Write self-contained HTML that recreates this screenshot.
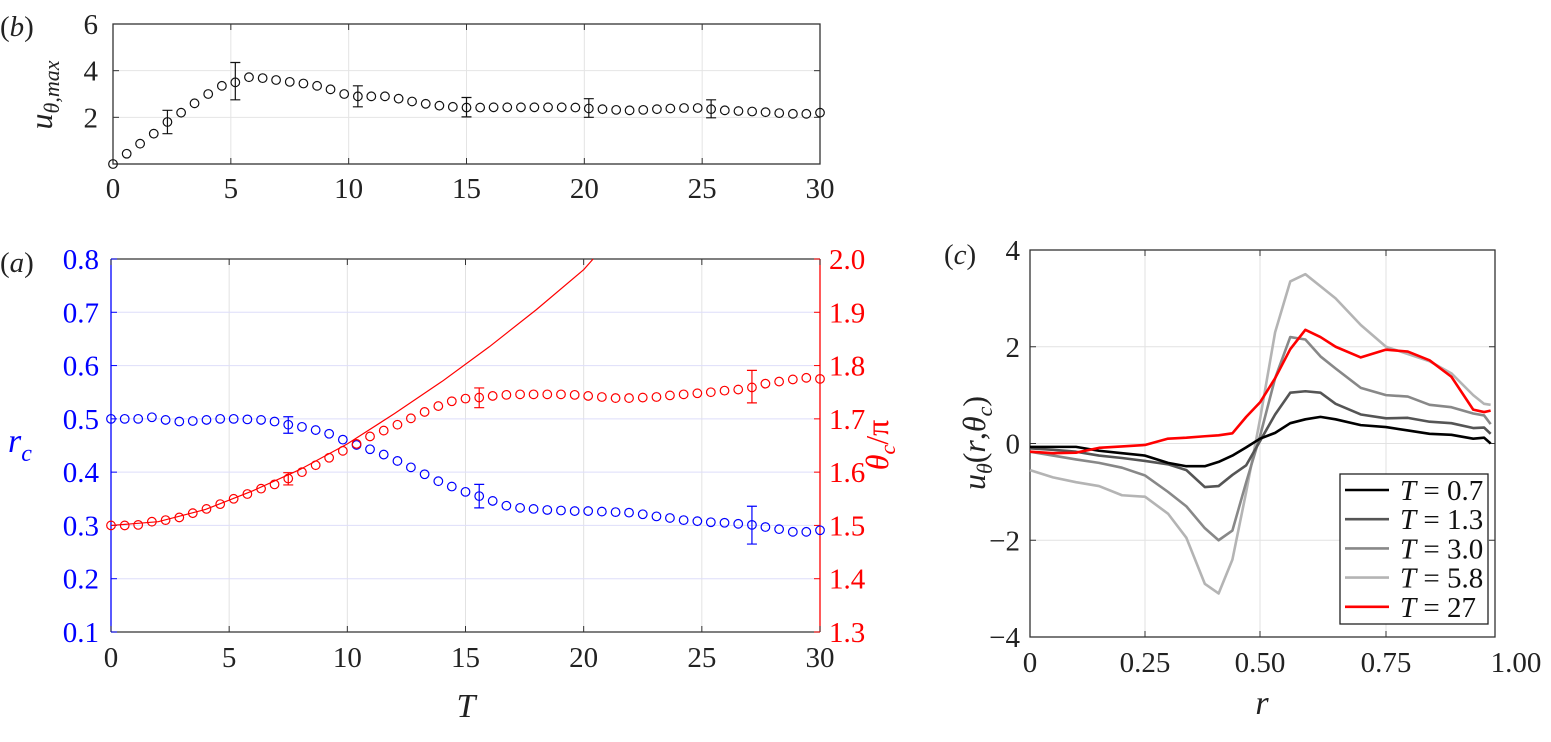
<!DOCTYPE html>
<html><head><meta charset="utf-8"><style>
body{margin:0;background:#fff;}
text{font-family:"Liberation Serif","DejaVu Serif",serif;}
</style></head><body>
<svg id="fig" width="1551" height="737" xmlns="http://www.w3.org/2000/svg" font-family="Liberation Serif, serif"></svg>
<script>
// ---- shared time grid ----
const tGrid=[0,0.58,1.15,1.73,2.31,2.89,3.46,4.04,4.62,5.19,5.77,6.35,6.92,7.5,8.08,8.66,9.23,9.81,10.39,10.96,11.54,12.12,12.69,13.27,13.85,14.42,15.0,15.58,16.15,16.73,17.31,17.88,18.46,19.04,19.62,20.19,20.77,21.35,21.92,22.5,23.08,23.65,24.23,24.81,25.38,25.96,26.54,27.12,27.69,28.27,28.85,29.42,30.0];
// ---- panel b ----
const bVals=[0,0.44,0.87,1.3,1.8,2.2,2.6,3.0,3.35,3.5,3.72,3.68,3.6,3.52,3.45,3.35,3.2,3.0,2.9,2.9,2.9,2.8,2.68,2.58,2.5,2.45,2.42,2.42,2.43,2.43,2.43,2.43,2.43,2.43,2.42,2.38,2.35,2.32,2.3,2.32,2.35,2.38,2.4,2.4,2.35,2.3,2.27,2.25,2.22,2.18,2.15,2.15,2.2];
const bErrIdx=[4,9,18,26,35,44];
const bErrLo=[1.3,2.75,2.45,2.02,2.0,1.98];
const bErrHi=[2.3,4.35,3.35,2.85,2.8,2.75];
const bXTicks=[0,5,10,15,20,25,30];
const bYTicks=[2,4,6];
// ---- panel a ----
const rcVals=[0.5,0.5,0.5,0.503,0.498,0.495,0.496,0.498,0.5,0.5,0.499,0.498,0.495,0.489,0.485,0.479,0.472,0.461,0.451,0.443,0.433,0.421,0.409,0.396,0.383,0.373,0.363,0.355,0.346,0.337,0.333,0.331,0.329,0.328,0.327,0.327,0.326,0.325,0.324,0.321,0.317,0.314,0.31,0.308,0.306,0.305,0.303,0.301,0.297,0.293,0.288,0.288,0.291];
const thVals=[1.5,1.5,1.501,1.507,1.51,1.515,1.523,1.531,1.54,1.55,1.559,1.569,1.577,1.588,1.6,1.613,1.627,1.64,1.653,1.667,1.678,1.689,1.701,1.713,1.724,1.733,1.738,1.74,1.743,1.745,1.746,1.746,1.746,1.746,1.745,1.743,1.741,1.739,1.739,1.74,1.741,1.744,1.746,1.748,1.75,1.753,1.755,1.759,1.766,1.77,1.774,1.777,1.775];
const rcErrIdx=[13,27,47];
const rcErrLo=[0.473,0.333,0.265];
const rcErrHi=[0.504,0.377,0.336];
const thErrIdx=[13,27,47];
const thErrLo=[1.576,1.721,1.73];
const thErrHi=[1.599,1.758,1.791];
const fitT=[0,2,4,6,8,10,12,14,16,18,20,20.4];
const fitVals=[1.5,1.507,1.53,1.565,1.605,1.653,1.71,1.77,1.835,1.905,1.98,2.0];
const aLeftTicks=[0.1,0.2,0.3,0.4,0.5,0.6,0.7,0.8];
const aRightTicks=[1.3,1.4,1.5,1.6,1.7,1.8,1.9,2.0];
// ---- panel c ----
const rGrid=[0,0.05,0.1,0.15,0.2,0.25,0.3,0.34,0.38,0.41,0.44,0.47,0.5,0.53,0.56,0.59,0.62,0.65,0.7,0.75,0.8,0.85,0.9,0.95,0.975,0.99];
const u07=[-0.07,-0.07,-0.07,-0.15,-0.2,-0.25,-0.4,-0.47,-0.47,-0.38,-0.25,-0.08,0.1,0.22,0.42,0.5,0.55,0.5,0.38,0.34,0.27,0.2,0.18,0.1,0.12,0];
const u13=[-0.1,-0.13,-0.17,-0.25,-0.3,-0.36,-0.43,-0.55,-0.9,-0.88,-0.65,-0.45,0.05,0.6,1.05,1.08,1.05,0.82,0.6,0.52,0.53,0.45,0.42,0.32,0.33,0.2];
const u30=[-0.17,-0.25,-0.33,-0.4,-0.5,-0.66,-1.0,-1.3,-1.75,-2.0,-1.8,-0.8,0.15,1.35,2.2,2.15,1.8,1.55,1.15,1.0,0.97,0.8,0.75,0.62,0.58,0.4];
const u58=[-0.55,-0.7,-0.8,-0.88,-1.07,-1.1,-1.45,-1.95,-2.9,-3.1,-2.4,-1.0,0.5,2.3,3.35,3.5,3.25,3.0,2.45,2.0,1.85,1.7,1.45,1.0,0.82,0.8];
const u27=[-0.17,-0.2,-0.19,-0.09,-0.06,-0.03,0.1,0.12,0.15,0.17,0.21,0.55,0.85,1.35,1.95,2.35,2.2,2.0,1.78,1.94,1.9,1.72,1.38,0.7,0.65,0.68];
const cSeries=[u07,u13,u30,u58,u27];
const cLabels=["0.7","1.3","3.0","5.8","27"];
const cXTicks=[0,0.25,0.5,0.75,1.0];
const cXTickLabels=["0","0.25","0.50","0.75","1.00"];
const cYTicks=[-4,-2,0,2,4];

const NS="http://www.w3.org/2000/svg";
const SERIF='"Liberation Serif", "DejaVu Serif", serif';
const svg=document.getElementById('fig');
function el(tag,attrs,parent,txt){const e=document.createElementNS(NS,tag);for(const k in attrs)e.setAttribute(k,attrs[k]);if(tag==='text')e.style.fontFamily=SERIF;if(txt!==undefined)e.textContent=txt;(parent||svg).appendChild(e);return e;}
function lin(d0,d1,r0,r1){return v=>r0+(v-d0)/(d1-d0)*(r1-r0);}
const FS=29;

// ===== Panel b =====
const bx=lin(0,30,113,820), by=lin(0,6,164,24);
const gB=el('g',{});


bXTicks.forEach(t=>{if(t>0&&t<30)el('line',{x1:bx(t),x2:bx(t),y1:24,y2:164,stroke:'#e4e4e4','stroke-width':1},gB);});
bYTicks.forEach(t=>{if(t<6)el('line',{x1:113,x2:820,y1:by(t),y2:by(t),stroke:'#e4e4e4','stroke-width':1},gB);});
el('rect',{x:113,y:24,width:707,height:140,fill:'none',stroke:'#333','stroke-width':1.3},gB);
bXTicks.forEach(t=>{el('line',{x1:bx(t),x2:bx(t),y1:164,y2:158,stroke:'#333'},gB);el('line',{x1:bx(t),x2:bx(t),y1:24,y2:30,stroke:'#333'},gB);
 const tx=el('text',{x:bx(t),y:198,'font-size':FS,'text-anchor':'middle',fill:'#222'},gB,String(t));});
bYTicks.forEach(t=>{el('line',{x1:113,x2:119,y1:by(t),y2:by(t),stroke:'#333'},gB);el('line',{x1:820,x2:814,y1:by(t),y2:by(t),stroke:'#333'},gB);
 const tx=el('text',{x:98,y:by(t)+10,'font-size':FS,'text-anchor':'end',fill:'#222'},gB,String(t));});
bErrIdx.forEach((i,k)=>{const x=bx(tGrid[i]);el('path',{d:`M${x},${by(bErrLo[k])}V${by(bErrHi[k])}M${x-5},${by(bErrLo[k])}h10M${x-5},${by(bErrHi[k])}h10`,stroke:'#111','stroke-width':1.2,fill:'none'},gB);});
bVals.forEach((v,i)=>{const c=el('circle',{cx:bx(tGrid[i]),cy:by(v),r:4.3,fill:'none',stroke:'#111','stroke-width':1.2},gB);});
let t=el('text',{x:0,y:36,'font-size':FS,fill:'#222'},gB);
el('tspan',{},t,'(');el('tspan',{'font-style':'italic'},t,'b');el('tspan',{},t,')');
t=el('text',{transform:'translate(52,95) rotate(-90)','font-size':32,'font-style':'italic','text-anchor':'middle',fill:'#222'},gB);

el('tspan',{},t,'u');el('tspan',{'font-size':22,dy:7},t,'θ,max');

// ===== Panel a =====
const ax=lin(0,30,111,820), ayL=lin(0.1,0.8,632,259), ayR=lin(1.3,2.0,632,259);
const gA=el('g',{});


bXTicks.forEach(x=>{if(x>0&&x<30)el('line',{x1:ax(x),x2:ax(x),y1:259,y2:632,stroke:'#e2e2e2'},gA);});
aLeftTicks.forEach(v=>{if(v>0.1&&v<0.8)el('line',{x1:111,x2:820,y1:ayL(v),y2:ayL(v),stroke:'#dedefa'},gA);});
el('line',{x1:111,x2:820,y1:259,y2:259,stroke:'#333','stroke-width':1.3},gA);
el('line',{x1:111,x2:820,y1:632,y2:632,stroke:'#333','stroke-width':1.3},gA);
el('line',{x1:111,x2:111,y1:259,y2:632,stroke:'#00f','stroke-width':1.3},gA);
el('line',{x1:820,x2:820,y1:259,y2:632,stroke:'#f00','stroke-width':1.3},gA);
bXTicks.forEach(x=>{el('line',{x1:ax(x),x2:ax(x),y1:632,y2:626,stroke:'#333'},gA);el('line',{x1:ax(x),x2:ax(x),y1:259,y2:265,stroke:'#333'},gA);
 const tx=el('text',{x:ax(x),y:667,'font-size':FS,'text-anchor':'middle',fill:'#222'},gA,String(x));});
aLeftTicks.forEach(v=>{el('line',{x1:111,x2:117,y1:ayL(v),y2:ayL(v),stroke:'#00f'},gA);
 const tx=el('text',{x:99,y:ayL(v)+10,'font-size':FS,'text-anchor':'end',fill:'#00f'},gA,v.toFixed(1));});
aRightTicks.forEach(v=>{el('line',{x1:820,x2:814,y1:ayR(v),y2:ayR(v),stroke:'#f00'},gA);
 const tx=el('text',{x:829,y:ayR(v)+10,'font-size':FS,fill:'#f00'},gA,v.toFixed(1));});
const fit=el('polyline',{points:fitT.map((x,i)=>ax(x)+','+ayR(fitVals[i])).join(' '),fill:'none',stroke:'#f00','stroke-width':1.2},gA);

rcErrIdx.forEach((i,k)=>{const x=ax(tGrid[i]);el('path',{d:`M${x},${ayL(rcErrLo[k])}V${ayL(rcErrHi[k])}M${x-5},${ayL(rcErrLo[k])}h10M${x-5},${ayL(rcErrHi[k])}h10`,stroke:'#00f','stroke-width':1.2,fill:'none'},gA);});
thErrIdx.forEach((i,k)=>{const x=ax(tGrid[i]);el('path',{d:`M${x},${ayR(thErrLo[k])}V${ayR(thErrHi[k])}M${x-5},${ayR(thErrLo[k])}h10M${x-5},${ayR(thErrHi[k])}h10`,stroke:'#f00','stroke-width':1.2,fill:'none'},gA);});
rcVals.forEach((v,i)=>{const c=el('circle',{cx:ax(tGrid[i]),cy:ayL(v),r:4.3,fill:'none',stroke:'#00f','stroke-width':1.2},gA);});
thVals.forEach((v,i)=>{const c=el('circle',{cx:ax(tGrid[i]),cy:ayR(v),r:4.3,fill:'none',stroke:'#f00','stroke-width':1.2},gA);});
t=el('text',{x:0,y:272,'font-size':FS,fill:'#222'},gA);
el('tspan',{},t,'(');el('tspan',{'font-style':'italic'},t,'a');el('tspan',{},t,')');
t=el('text',{x:8,y:452,'font-size':34,'font-style':'italic',fill:'#00f'},gA);
el('tspan',{},t,'r');el('tspan',{'font-size':24,dy:9},t,'c');
t=el('text',{transform:'translate(888,445) rotate(-90)','font-size':32,'text-anchor':'middle',fill:'#f00'},gA);
el('tspan',{'font-style':'italic'},t,'θ');el('tspan',{'font-size':22,dy:7,'font-style':'italic'},t,'c');el('tspan',{dy:-7},t,'/π');
t=el('text',{x:466,y:717,'font-size':34,'font-style':'italic','text-anchor':'middle',fill:'#222'},gA,'T');

// ===== Panel c =====
const cxK=[0,0.25,0.5,0.75,1.0], cxP=[1030,1145,1260,1386,1495];
function cx(r){for(let k=0;k<cxK.length-1;k++){if(r<=cxK[k+1])return cxP[k]+(r-cxK[k])/(cxK[k+1]-cxK[k])*(cxP[k+1]-cxP[k]);}return cxP[cxP.length-1];}
const cy=lin(-4,4,637,250);
const gC=el('g',{});


cXTicks.forEach(r=>{if(r>0&&r<1)el('line',{x1:cx(r),x2:cx(r),y1:250,y2:637,stroke:'#e2e2e2'},gC);});
cYTicks.forEach(v=>{if(v>-4&&v<4)el('line',{x1:1030,x2:1495,y1:cy(v),y2:cy(v),stroke:'#e2e2e2'},gC);});
el('rect',{x:1030,y:250,width:465,height:387,fill:'none',stroke:'#333','stroke-width':1.3},gC);
cXTicks.forEach((r,i)=>{el('line',{x1:cx(r),x2:cx(r),y1:637,y2:631,stroke:'#333'},gC);el('line',{x1:cx(r),x2:cx(r),y1:250,y2:256,stroke:'#333'},gC);
 const tx=el('text',{x:i==4?1516:cx(r),y:672,'font-size':FS,'text-anchor':'middle',fill:'#222'},gC,cXTickLabels[i]);});
cYTicks.forEach(v=>{el('line',{x1:1030,x2:1036,y1:cy(v),y2:cy(v),stroke:'#333'},gC);el('line',{x1:1495,x2:1489,y1:cy(v),y2:cy(v),stroke:'#333'},gC);
 const tx=el('text',{x:1020,y:cy(v)+10,'font-size':FS,'text-anchor':'end',fill:'#222'},gC,v<0?'−'+(-v):String(v));});
const cColors=['#000','#555','#888','#b4b4b4','#f00'];
const cOrder=[3,2,1,0,4];
cOrder.forEach(s=>{const p=el('polyline',{points:rGrid.map((r,i)=>cx(r)+','+cy(cSeries[s][i])).join(' '),fill:'none',stroke:cColors[s],'stroke-width':2.6,'stroke-linejoin':'round'},gC);
 });
const lg=el('g',{},gC);
el('rect',{x:1340,y:474,width:148,height:150,fill:'#fff',stroke:'#222','stroke-width':1.3},lg);
cLabels.forEach((lab,i)=>{const y=490+i*29.2;
 const e=el('g',{},lg);
 el('line',{x1:1345,x2:1389,y1:y,y2:y,stroke:cColors[i],'stroke-width':2.6},e);
 const tx=el('text',{x:1400,y:y+10,'font-size':FS,fill:'#111'},e);el('tspan',{'font-style':'italic'},tx,'T');el('tspan',{},tx,' = '+lab);});
t=el('text',{x:944,y:264,'font-size':FS,fill:'#222'},gC);
el('tspan',{},t,'(');el('tspan',{'font-style':'italic'},t,'c');el('tspan',{},t,')');
t=el('text',{transform:'translate(985,443) rotate(-90)','font-size':32,'text-anchor':'middle',fill:'#222'},gC);
el('tspan',{'font-style':'italic'},t,'u');el('tspan',{'font-size':22,dy:7,'font-style':'italic'},t,'θ');el('tspan',{dy:-7},t,'(');el('tspan',{'font-style':'italic'},t,'r');el('tspan',{},t,',');el('tspan',{'font-style':'italic'},t,'θ');el('tspan',{'font-size':22,dy:7,'font-style':'italic'},t,'c');el('tspan',{dy:-7},t,')');
t=el('text',{x:1262,y:714,'font-size':34,'font-style':'italic','text-anchor':'middle',fill:'#222'},gC,'r');
</script>
</body></html>
